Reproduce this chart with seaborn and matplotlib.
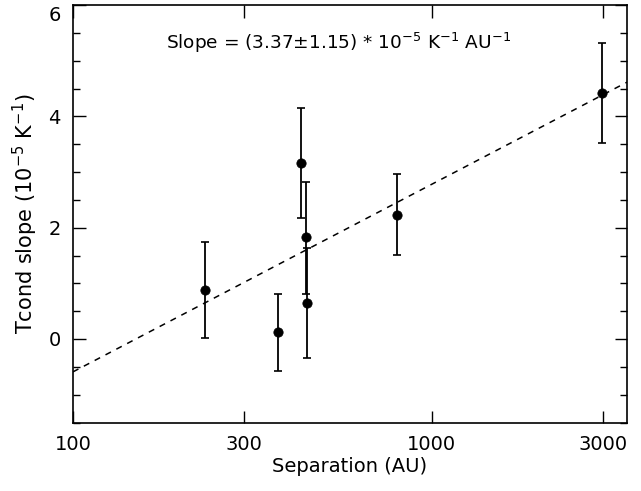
import numpy as np
import pandas as pd
import matplotlib
matplotlib.use("Agg")
import matplotlib.pyplot as plt
import seaborn as sns
from matplotlib.ticker import FixedLocator, MultipleLocator, NullLocator
from matplotlib.transforms import ScaledTranslation

# Data
separation = [233, 372, 431, 445, 448, 800, 2976]
tcond_slope = [0.88, 0.13, 3.16, 1.83, 0.65, 2.23, 4.42]
err_upper = [0.86, 0.68, 0.99, 0.99, 0.98, 0.73, 0.89]
err_lower = [0.86, 0.70, 0.99, 1.02, 0.99, 0.72, 0.90]

fit_slope = 3.37
fit_intercept = -7.33
fit_x = [100, 3500]

x_ticks = [100, 300, 1000, 3000]
x_ticklabels = ["100", "300", "1000", "3000"]

sns.set_theme(style="white")
plt.rcParams['font.family'] = ['DejaVu Sans']
plt.rcParams['text.color'] = 'black'
plt.rcParams['axes.labelcolor'] = 'black'

df = pd.DataFrame({"sep": separation, "slope": tcond_slope})

fig = plt.figure(figsize=(6.41, 4.91), dpi=100)
ax = fig.add_axes([73/641, (491-422.5)/491, (627-73)/641, (422.5-5)/491])

fx = np.array(fit_x, dtype=float)
fit_df = pd.DataFrame({"x": fx, "y": fit_slope*np.log10(fx) + fit_intercept})
sns.lineplot(data=fit_df, x="x", y="y", ax=ax, color="black", lw=1.1,
             linestyle=(0, (4, 4)))

ax.errorbar(separation, tcond_slope, yerr=[err_lower, err_upper], fmt="none",
            ecolor="black", elinewidth=1.3, capsize=3, capthick=1.2)
sns.scatterplot(data=df, x="sep", y="slope", ax=ax, color="black", s=45,
                edgecolor="black", zorder=5)

ax.set_xscale("log")
ax.set_xlim(100, 3500)
ax.set_ylim(-1.5, 6)
ax.xaxis.set_major_locator(FixedLocator(x_ticks))
ax.set_xticklabels(x_ticklabels)
ax.xaxis.set_minor_locator(NullLocator())
ax.yaxis.set_major_locator(MultipleLocator(2))
ax.yaxis.set_minor_locator(MultipleLocator(0.5))
ax.tick_params(which="both", direction="in", top=True, right=True,
               bottom=True, left=True, colors="black", labelsize=14, width=1)
ax.tick_params(which="major", length=9, pad=9)
ax.tick_params(which="minor", length=5)
for s in ax.spines.values():
    s.set_color("black")
    s.set_linewidth(1.2)

fig.canvas.draw()
for lab in ax.get_yticklabels():
    if lab.get_text() == "6":
        lab.set_verticalalignment("top")
        lab.set_transform(lab.get_transform() + ScaledTranslation(0, -1/100, fig.dpi_scale_trans))

ax.set_xlabel("Separation (AU)", fontsize=14, labelpad=2, color="black")
ax.set_ylabel("Tcond slope (10$^{-5}$ K$^{-1}$)", fontsize=15, labelpad=6, color="black")
ax.text(0.168, 0.91, "Slope = (3.37±1.15) * 10$^{-5}$ K$^{-1}$ AU$^{-1}$",
        transform=ax.transAxes, fontsize=13.3, ha="left", va="center", color="black")

fig.savefig("out.png", dpi=100)
